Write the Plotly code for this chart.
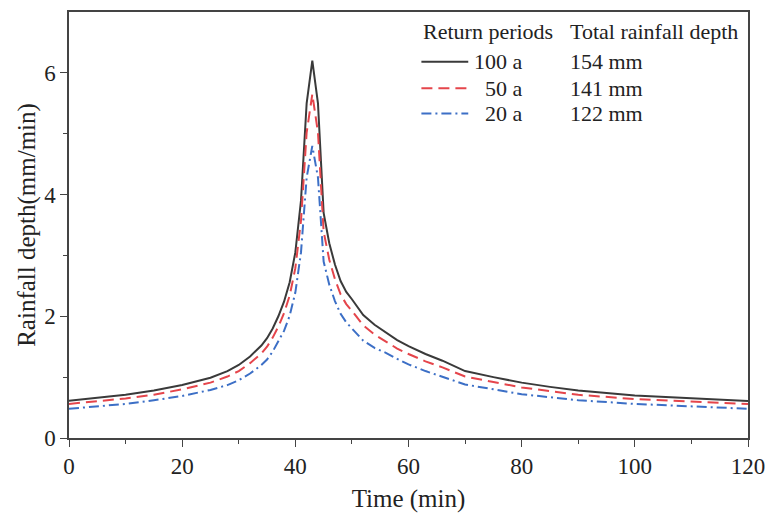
import plotly.graph_objects as go

# Rainfall hyetographs (mm/min)
time_min = [0, 5, 10, 15, 20, 25, 28, 30, 32, 34, 35, 36, 37, 38, 39, 40, 41,
            42, 43, 44, 45, 46, 47, 48, 49, 50, 51, 52, 54, 56, 58, 60, 63, 66,
            70, 75, 80, 85, 90, 100, 110, 120]

rain_100a = [0.61, 0.66, 0.71, 0.78, 0.87, 0.99, 1.10, 1.20, 1.34, 1.52, 1.64,
             1.80, 2.00, 2.24, 2.56, 3.05, 3.90, 5.50, 6.20, 5.50, 3.70, 3.20,
             2.85, 2.58, 2.40, 2.28, 2.14, 2.02, 1.86, 1.73, 1.61, 1.51, 1.38,
             1.27, 1.10, 1.00, 0.91, 0.84, 0.78, 0.70, 0.65, 0.61]
rain_50a = [0.56, 0.60, 0.65, 0.71, 0.80, 0.91, 1.01, 1.10, 1.23, 1.39, 1.50,
            1.65, 1.83, 2.05, 2.34, 2.79, 3.57, 5.02, 5.65, 5.02, 3.39, 2.93,
            2.61, 2.36, 2.20, 2.09, 1.96, 1.85, 1.70, 1.58, 1.47, 1.38, 1.26,
            1.16, 1.01, 0.92, 0.83, 0.77, 0.71, 0.64, 0.60, 0.56]
rain_20a = [0.48, 0.52, 0.56, 0.62, 0.69, 0.79, 0.87, 0.95, 1.06, 1.20, 1.29,
            1.42, 1.58, 1.76, 2.01, 2.39, 3.05, 4.28, 4.80, 4.28, 2.90, 2.52,
            2.25, 2.04, 1.90, 1.80, 1.69, 1.60, 1.48, 1.40, 1.30, 1.21, 1.10,
            1.01, 0.88, 0.80, 0.72, 0.67, 0.62, 0.56, 0.52, 0.48]

periods = ['100 a', '50 a', '20 a']
totals = ['154 mm', '141 mm', '122 mm']
series = [rain_100a, rain_50a, rain_20a]
colors = ['#3a3a3a', '#E5454B', '#3C6FC6']
dashes = ['solid', '11px,6px', '10px,4px,2px,4px']

FONT = 'Liberation Serif'

fig = go.Figure()
for name, ys, c, d in zip(periods, series, colors, dashes):
    fig.add_trace(go.Scatter(
        x=time_min, y=ys, mode='lines', name=name,
        line=dict(color=c, width=2, dash=d),
        showlegend=False
    ))

# hand-made legend block (two columns like the original)
row_y = [0.883, 0.821, 0.762]
for yy, name, tot, c, d in zip(row_y, periods, totals, colors, dashes):
    fig.add_shape(type='line', xref='paper', yref='paper',
                  x0=0.519, x1=0.588, y0=yy, y1=yy,
                  line=dict(color=c, width=2, dash=d))
    fig.add_annotation(xref='paper', yref='paper', x=0.672, y=yy, text=name,
                       xanchor='right', yanchor='middle', showarrow=False,
                       font=dict(family=FONT, size=22, color='#222'))
    fig.add_annotation(xref='paper', yref='paper', x=0.735, y=yy, text=tot,
                       xanchor='left', yanchor='middle', showarrow=False,
                       font=dict(family=FONT, size=22, color='#222'))

fig.add_annotation(xref='paper', yref='paper', x=0.519, y=0.954,
                   text='Return periods', xanchor='left', yanchor='middle',
                   showarrow=False, font=dict(family=FONT, size=22, color='#222'))
fig.add_annotation(xref='paper', yref='paper', x=0.735, y=0.954,
                   text='Total rainfall depth', xanchor='left', yanchor='middle',
                   showarrow=False, font=dict(family=FONT, size=22, color='#222'))

axis_common = dict(
    showline=True, linecolor='#444', linewidth=1.5, mirror=True,
    ticks='outside', ticklen=7, tickwidth=1.3, tickcolor='#444',
    showgrid=False, zeroline=False, automargin=False,
    tickfont=dict(family=FONT, size=23, color='#222'),
)

fig.update_xaxes(
    range=[0, 120], tickvals=[0, 20, 40, 60, 80, 100, 120],
    minor=dict(ticks='outside', ticklen=4, tickvals=[10, 30, 50, 70, 90, 110],
               tickcolor='#444', showgrid=False),
    title=dict(text='Time (min)', font=dict(family=FONT, size=25, color='#222'),
               standoff=11),
    **axis_common
)
fig.update_yaxes(
    range=[0, 7], tickvals=[0, 2, 4, 6],
    minor=dict(ticks='outside', ticklen=4, tickvals=[1, 3, 5],
               tickcolor='#444', showgrid=False),
    title=dict(text='Rainfall depth(mm/min)',
               font=dict(family=FONT, size=25, color='#222'), standoff=1),
    **axis_common
)

fig.update_layout(
    width=770, height=521,
    margin=dict(l=69, r=22, t=12, b=83),
    plot_bgcolor='white', paper_bgcolor='white',
    font=dict(family=FONT, color='#222'),
)

# drop the default 8px body margin so the full figure fits the window
fig.write_html("out.html", config={'displayModeBar': False},
               post_script="document.body.style.margin='0';")
